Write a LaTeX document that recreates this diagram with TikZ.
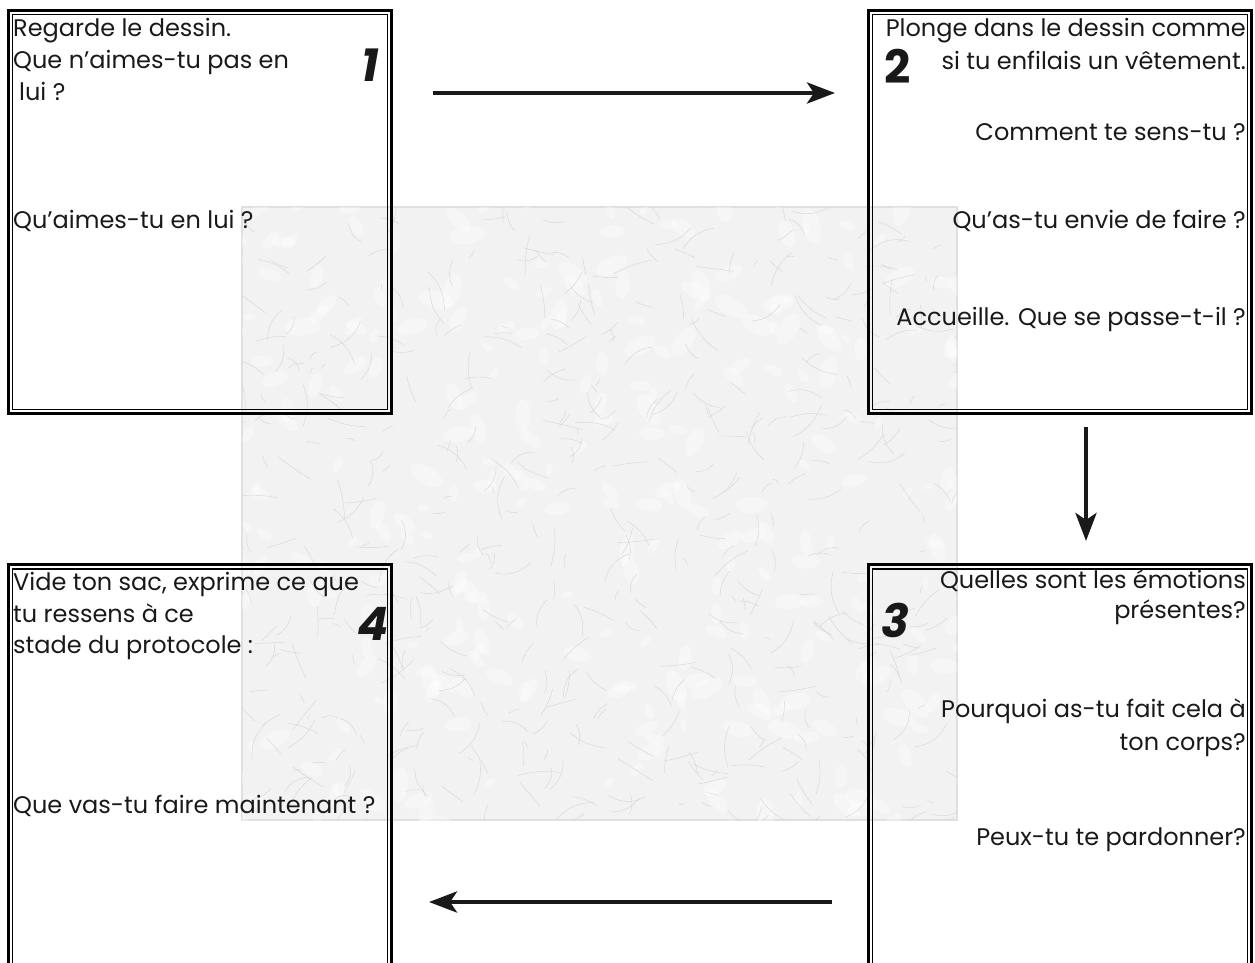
\documentclass[tikz,border=0pt]{standalone}
\usepackage{fontspec}
\setmainfont{Poppins}
\usetikzlibrary{arrows.meta}

\begin{document}
\begin{tikzpicture}
[x=1pt,y=-1pt,
 ar/.style={-{Stealth[length=28pt,width=21pt,inset=7pt]},line width=4.5pt,black!90},
 box/.style={draw,line width=2.7pt,minimum width=383pt,inner sep=0pt},
 inbox/.style={draw,line width=1.4pt,minimum width=375pt,inner sep=0pt},
 txt/.style={inner sep=0pt,text=black!90,font=\fontsize{24}{30}\selectfont},
 num/.style={inner sep=0pt,text=black!90,font=\fontsize{46}{46}\selectfont\bfseries\itshape},
 paper/.style={fill=black!5,draw=black!12,line width=1.5pt},
 scratch/.style={draw=black!17,line width=0.4pt},
 blot/.style={fill=white,opacity=0.35}]
\clip (0,0) rectangle (1255,963);

% paper in the middle
\filldraw [paper] (242,207) rectangle (957,820);
\begin{scope}
\clip (242,207) rectangle (957,820);
\pgfmathsetseed{11}
\foreach \i in {1,...,300}{
  \pgfmathsetmacro\px{230+740*rnd}
  \pgfmathsetmacro\py{195+640*rnd}
  \pgfmathsetmacro\pa{360*rnd}
  \pgfmathsetmacro\pr{3+6*rnd}
  \fill [blot] (\px,\py) ellipse [x radius=\pr*2,y radius=\pr,rotate=\pa];
}
\foreach \i in {1,...,500}{
  \pgfmathsetmacro\px{230+740*rnd}
  \pgfmathsetmacro\py{195+640*rnd}
  \pgfmathsetmacro\pa{360*rnd}
  \pgfmathsetmacro\pl{6+36*rnd}
  \pgfmathsetmacro\pb{-30+60*rnd}
  \draw [scratch] (\px,\py) to [bend left=\pb] ++(\pa:\pl);
}
\end{scope}

% boxes
\node [box,minimum height=403pt] at (200.2,212) (b1) {};
\node [inbox,minimum height=395pt] at (b1) (b1i) {};
\node [box,minimum height=403pt] at (1060,212) (b2) {};
\node [inbox,minimum height=395pt] at (b2) (b2i) {};
\node [box,minimum height=435pt] at (1060,782.3) (b3) {};
\node [inbox,minimum height=427pt] at (b3) (b3i) {};
\node [box,minimum height=435pt] at (200.2,782.3) (b4) {};
\node [inbox,minimum height=427pt] at (b4) (b4i) {};

% numbers
\node [num] at (370,65) (n1) {1};
\node [num,font=\fontsize{46}{46}\selectfont\bfseries] at (898,66) (n2) {2};
\node [num] at (895,620) (n3) {3};
\node [num] at (373,624) (n4) {4};

% box 1
\node [txt,anchor=base west] at (13,37) (t1a) {Regarde le dessin.};
\node [txt,anchor=base west] at (13,69) (t1b) {Que n’aimes-tu pas en};
\node [txt,anchor=base west] at (19,101) (t1c) {lui ?};
\node [txt,anchor=base west] at (13,228) (t1d) {Qu’aimes-tu en lui ?};

% box 2
\node [txt,anchor=base east] at (1246,37) (t2a) {Plonge dans le dessin comme};
\node [txt,anchor=base east] at (1246,70) (t2b) {si tu enfilais un vêtement.};
\node [txt,anchor=base east] at (1246,141) (t2c) {Comment te sens-tu ?};
\node [txt,anchor=base east] at (1246,228) (t2d) {Qu’as-tu envie de faire ?};
\node [txt,anchor=base east] at (1246,325) (t2e) {Accueille. Que se passe-t-il ?};

% box 3
\node [txt,anchor=base east] at (1246,588) (t3a) {Quelles sont les émotions};
\node [txt,anchor=base east] at (1246,618) (t3b) {présentes?};
\node [txt,anchor=base east] at (1246,717) (t3c) {Pourquoi as-tu fait cela à};
\node [txt,anchor=base east] at (1246,750) (t3d) {ton corps?};
\node [txt,anchor=base east] at (1246,845) (t3e) {Peux-tu te pardonner?};

% box 4
\node [txt,anchor=base west] at (13,590) (t4a) {Vide ton sac, exprime ce que};
\node [txt,anchor=base west] at (13,622) (t4b) {tu ressens à ce};
\node [txt,anchor=base west] at (13,653) (t4c) {stade du protocole :};
\node [txt,anchor=base west] at (13,813) (t4d) {Que vas-tu faire maintenant ?};

% arrows
\coordinate (a1) at (433,93);
\coordinate (a2) at (835,93);
\coordinate (a3) at (1086,427);
\coordinate (a4) at (1086,541);
\coordinate (a5) at (832,902);
\coordinate (a6) at (429,902);
\draw [ar] (a1) -- (a2);
\draw [ar] (a3) -- (a4);
\draw [ar] (a5) -- (a6);
\end{tikzpicture}
\end{document}
